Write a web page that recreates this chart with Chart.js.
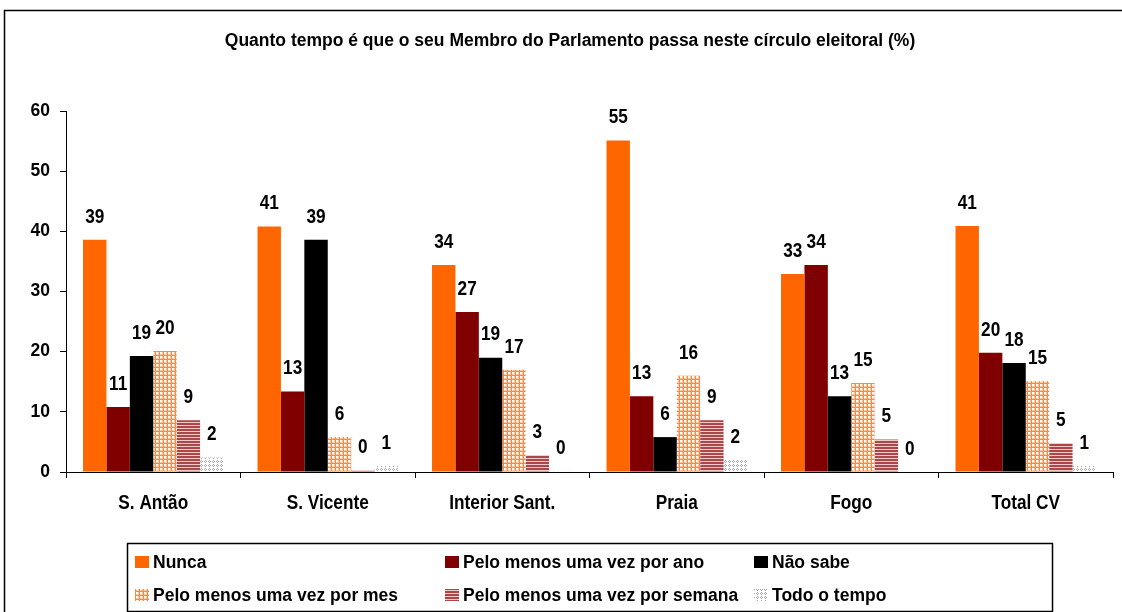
<!DOCTYPE html>
<html>
<head>
<meta charset="utf-8">
<script src="https://cdn.jsdelivr.net/npm/chart.js@4.4.1/dist/chart.umd.min.js"></script>
<style>
html,body{margin:0;padding:0;background:#fff;}
#wrap{width:1122px;height:612px;position:relative;}
</style>
</head>
<body>
<div id="wrap"><canvas id="c" width="1122" height="612"></canvas></div>
<script>
const categories = ['S. Antão', 'S. Vicente', 'Interior Sant.', 'Praia', 'Fogo', 'Total CV'];
const seriesNames = ['Nunca', 'Pelo menos uma vez por ano', 'Não sabe', 'Pelo menos uma vez por mes', 'Pelo menos uma vez por semana', 'Todo o tempo'];
const nunca      = [38.6, 40.8, 34.4, 55.1, 32.9, 40.9];
const porAno     = [10.8, 13.4, 26.6, 12.6, 34.4, 19.8];
const naoSabe    = [19.3, 38.6, 19.0, 5.8, 12.6, 18.1];
const porMes     = [20.1, 5.8, 17.0, 16.0, 14.8, 15.1];
const porSemana  = [8.6, 0.3, 2.8, 8.6, 5.4, 4.8];
const todoTempo  = [2.4, 1.0, 0.2, 2.0, 0.0, 1.0];
const yTicks = [0, 10, 20, 30, 40, 50, 60];
const titleText = 'Quanto tempo é que o seu Membro do Parlamento passa neste círculo eleitoral (%)';

const FONT = '"Liberation Sans", Arial, sans-serif';
const SQUEEZE = 0.82;

function makePattern(w, h, draw) {
  const c = document.createElement('canvas');
  c.width = w; c.height = h;
  const g = c.getContext('2d');
  draw(g);
  return document.getElementById('c').getContext('2d').createPattern(c, 'repeat');
}
const gridPattern = makePattern(4, 4, g => {
  g.fillStyle = '#ffffff'; g.fillRect(0, 0, 4, 4);
  g.fillStyle = '#FFC8A4'; g.fillRect(2, 0, 1, 4); g.fillRect(0, 2, 4, 1);
  g.fillStyle = '#FF8A3D'; g.fillRect(3, 0, 1, 4); g.fillRect(0, 3, 4, 1);
});
const stripePattern = makePattern(4, 3, g => {
  g.fillStyle = '#A84848'; g.fillRect(0, 0, 4, 2);
  g.fillStyle = '#F2C8C8'; g.fillRect(0, 2, 4, 1);
});
const dotPattern = makePattern(4, 4, g => {
  g.fillStyle = '#ffffff'; g.fillRect(0, 0, 4, 4);
  g.fillStyle = '#A8A8A8';
  g.fillRect(1, 0, 1, 1); g.fillRect(0, 1, 1, 1); g.fillRect(2, 1, 1, 1); g.fillRect(1, 2, 1, 1);
});

const seriesData = [nunca, porAno, naoSabe, porMes, porSemana, todoTempo];
const seriesFill = ['#FF6600', '#800000', '#000000', gridPattern, stripePattern, dotPattern];

const datasets = seriesData.map((d, i) => ({
  label: seriesNames[i],
  data: d,
  backgroundColor: seriesFill[i],
  borderWidth: 0,
  categoryPercentage: 0.805,
  barPercentage: 1.0
}));

function squeezedText(ctx, text, x, y) {
  ctx.save();
  ctx.translate(x, y);
  ctx.scale(SQUEEZE, 1);
  ctx.fillText(text, 0, 0);
  ctx.restore();
}

const framePlugin = {
  id: 'frame',
  beforeDraw(chart) {
    const ctx = chart.ctx;
    ctx.save();
    ctx.fillStyle = '#fff';
    ctx.fillRect(0, 0, chart.width, chart.height);
    ctx.strokeStyle = '#000';
    ctx.lineWidth = 1.5;
    ctx.strokeRect(4.5, 10.5, 1200, 700);
    ctx.restore();
  },
  afterDraw(chart) {
    const ctx = chart.ctx;
    ctx.save();
    ctx.fillStyle = '#000';
    ctx.font = 'bold 17.5px ' + FONT;
    ctx.textAlign = 'center';
    ctx.textBaseline = 'middle';
    ctx.fillText(titleText, 570, 41);
    // category labels
    const xs = chart.scales.x;
    ctx.font = 'bold 21px ' + FONT;
    chart.data.labels.forEach((lab, i) => {
      squeezedText(ctx, lab, xs.getPixelForValue(i), 503);
    });
    // legend
    ctx.strokeStyle = '#000';
    ctx.lineWidth = 1.5;
    ctx.strokeRect(127.5, 543.5, 925, 68);
    const colX = [135, 445, 754];
    const rowY = [562, 595];
    ctx.textAlign = 'left';
    ctx.font = 'bold 17.5px ' + FONT;
    chart.data.datasets.forEach((ds, i) => {
      const x = colX[i % 3], y = rowY[Math.floor(i / 3)];
      ctx.fillStyle = ds.backgroundColor;
      ctx.fillRect(x, y - 6, 14, 12);
      ctx.fillStyle = '#000';
      ctx.fillText(ds.label, x + 18, y + 1);
    });
    ctx.restore();
  },
  afterDatasetsDraw(chart) {
    const ctx = chart.ctx;
    ctx.save();
    ctx.fillStyle = '#000';
    ctx.font = 'bold 21px ' + FONT;
    ctx.textAlign = 'center';
    ctx.textBaseline = 'middle';
    chart.data.datasets.forEach((ds, i) => {
      const meta = chart.getDatasetMeta(i);
      meta.data.forEach((el, j) => {
        squeezedText(ctx, String(Math.round(ds.data[j])), el.x, el.y - 23);
      });
    });
    ctx.restore();
  }
};

new Chart(document.getElementById('c'), {
  type: 'bar',
  data: { labels: categories, datasets },
  options: {
    responsive: false,
    animation: false,
    devicePixelRatio: 1,
    layout: { padding: { left: 27, right: 9, top: 111, bottom: 0 } },
    plugins: { legend: { display: false }, title: { display: false }, tooltip: { enabled: false } },
    scales: {
      x: {
        afterFit(s) { s.height = 140; },
        grid: { offset: true, drawOnChartArea: false, drawTicks: true, tickLength: 6, color: '#000' },
        border: { display: true, color: '#000', width: 1 },
        ticks: { display: false }
      },
      y: {
        min: 0, max: 60,
        afterFit(s) { s.width = 39; },
        afterBuildTicks(s) { s.ticks = yTicks.map(v => ({ value: v })); },
        grid: { drawOnChartArea: false, drawTicks: true, tickLength: 6, color: '#000' },
        border: { display: true, color: '#000', width: 1 },
        ticks: { color: '#000', font: { family: FONT, size: 17.5, weight: 'bold' }, padding: 10 }
      }
    }
  },
  plugins: [framePlugin]
});
</script>
</body>
</html>
